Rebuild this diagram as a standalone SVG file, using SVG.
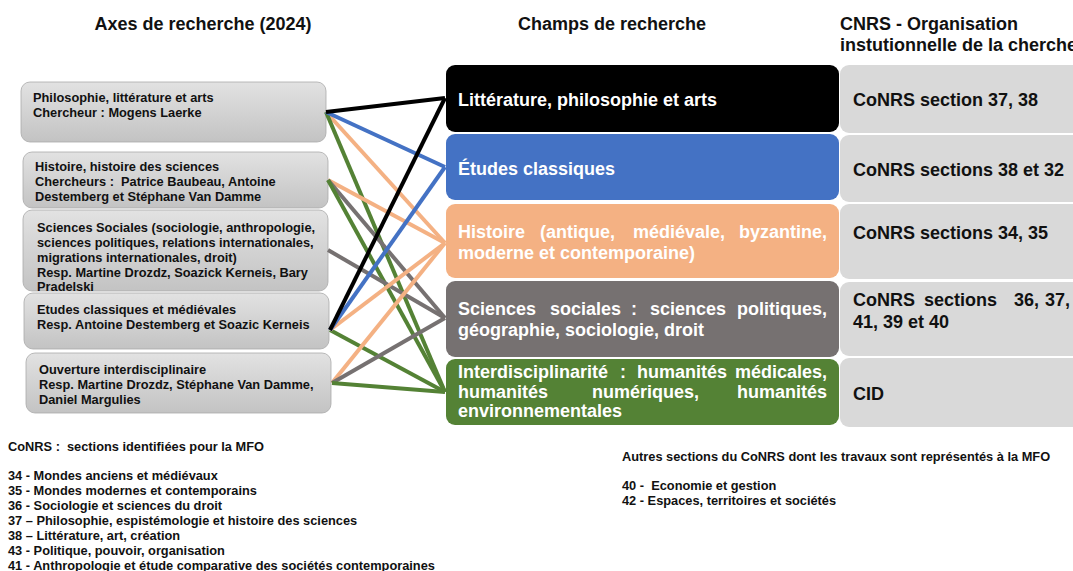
<svg xmlns="http://www.w3.org/2000/svg" width="1073" height="571" viewBox="0 0 1073 571">
<defs>
<linearGradient id="gl" x1="0" y1="0" x2="0" y2="1">
<stop offset="0" stop-color="#e2e2e2"/>
<stop offset="1" stop-color="#c3c3c3"/>
</linearGradient>
<style>
text{font-family:"Liberation Sans",Arial,sans-serif;font-weight:bold;}
.h{font-size:18px;fill:#111;}
.ax rect{fill:url(#gl);stroke:#a9a9a9;stroke-width:0.8;}
.ax text{font-size:12.8px;fill:#111;}
.ch text{font-size:18px;fill:#fff;}
.cn rect{fill:#d9d9d9;}
.cn text{font-size:18px;fill:#111;}
.lg{font-size:12.8px;fill:#111;}
.c line{stroke-width:4;stroke-linecap:butt;}
.k{stroke:#000;}.b{stroke:#4472c4;}.o{stroke:#f4b183;}.g{stroke:#767171;}.v{stroke:#548235;}
</style>
</defs>
<rect width="1073" height="571" fill="#fff"/>

<text class="h" x="203" y="30" text-anchor="middle">Axes de recherche (2024)</text>
<text class="h" x="612" y="30" text-anchor="middle">Champs de recherche</text>
<text class="h" x="840" y="30">CNRS - Organisation</text>
<text class="h" x="840" y="51">instutionnelle de la cherche</text>

<g id="axe1" class="ax"><rect x="21" y="82" width="305" height="60" rx="9"/>
<text x="33" y="102">Philosophie, littérature et arts</text>
<text x="33" y="117">Chercheur : Mogens Laerke</text></g>
<g id="axe2" class="ax"><rect x="23" y="152" width="305" height="56" rx="9"/>
<text x="35" y="171">Histoire, histoire des sciences</text>
<text x="35" y="186" xml:space="preserve">Chercheurs :  Patrice Baubeau, Antoine</text>
<text x="35" y="201">Destemberg et Stéphane Van Damme</text></g>
<g id="axe3" class="ax"><rect x="23" y="210" width="305" height="81" rx="9"/>
<text x="37" y="232">Sciences Sociales (sociologie, anthropologie,</text>
<text x="37" y="247">sciences politiques, relations internationales,</text>
<text x="37" y="262">migrations internationales, droit)</text>
<text x="37" y="277">Resp. Martine Drozdz, Soazick Kerneis, Bary</text>
<text x="37" y="291">Pradelski</text></g>
<g id="axe4" class="ax"><rect x="24" y="293" width="305" height="56" rx="9"/>
<text x="37" y="314">Etudes classiques et médiévales</text>
<text x="37" y="329">Resp. Antoine Destemberg et Soazic Kerneis</text></g>
<g id="axe5" class="ax"><rect x="26" y="353" width="305" height="60" rx="9"/>
<text x="39" y="374">Ouverture interdisciplinaire</text>
<text x="39" y="389">Resp. Martine Drozdz, Stéphane Van Damme,</text>
<text x="39" y="404">Daniel Margulies</text></g>

<g id="cnrs1" class="cn"><rect x="840" y="65" width="250" height="68" rx="9"/><text x="853" y="106">CoNRS section 37, 38</text></g>
<g id="cnrs2" class="cn"><rect x="840" y="135" width="250" height="67" rx="9"/><text x="853" y="176">CoNRS sections 38 et 32</text></g>
<g id="cnrs3" class="cn"><rect x="840" y="204" width="250" height="75" rx="9"/><text x="853" y="239">CoNRS sections 34, 35</text></g>
<g id="cnrs4" class="cn"><rect x="840" y="282" width="250" height="74" rx="9"/>
<text y="306"><tspan x="853">CoNRS</tspan><tspan x="924">sections</tspan><tspan x="1014">36,</tspan><tspan x="1045">37,</tspan></text>
<text x="853" y="328">41, 39 et 40</text></g>
<g id="cnrs5" class="cn"><rect x="840" y="358" width="250" height="69" rx="9"/><text x="853" y="400">CID</text></g>

<g id="champ1" class="ch"><rect x="446" y="65" width="393" height="67" rx="9" fill="#000"/>
<text x="458" y="106">Littérature, philosophie et arts</text></g>
<g id="champ2" class="ch"><rect x="446" y="134" width="393" height="66" rx="9" fill="#4472c4"/>
<text x="458" y="175">Études classiques</text></g>
<g id="champ3" class="ch"><rect x="446" y="204" width="393" height="74" rx="9" fill="#f4b183"/>
<text y="238"><tspan x="458">Histoire</tspan><tspan x="540">(antique,</tspan><tspan x="633">médiévale,</tspan></text>
<text x="827" y="238" text-anchor="end">byzantine,</text>
<text x="458" y="259">moderne et contemporaine)</text></g>
<g id="champ4" class="ch"><rect x="446" y="281" width="393" height="76" rx="9" fill="#767171"/>
<text y="315"><tspan x="458">Sciences</tspan><tspan x="550">sociales</tspan><tspan x="631">:</tspan><tspan x="650">sciences</tspan></text>
<text x="827" y="315" text-anchor="end">politiques,</text>
<text x="458" y="336">géographie, sociologie, droit</text></g>
<g id="champ5" class="ch"><rect x="446" y="359" width="393" height="66" rx="9" fill="#548235"/>
<text y="378"><tspan x="458">Interdisciplinarité</tspan><tspan x="620">:</tspan><tspan x="637">humanités</tspan></text>
<text x="827" y="378" text-anchor="end">médicales,</text>
<text y="398"><tspan x="458">humanités</tspan><tspan x="592">numériques,</tspan></text>
<text x="827" y="398" text-anchor="end">humanités</text>
<text x="458" y="417">environnementales</text></g>

<g id="connectors" class="c">
<line class="o" x1="326" y1="112" x2="445" y2="243"/>
<line class="v" x1="326" y1="112" x2="445" y2="392"/>
<line class="b" x1="326" y1="112" x2="445" y2="167"/>
<line class="k" x1="326" y1="112" x2="445" y2="98"/>
<line class="o" x1="328" y1="180" x2="445" y2="243"/>
<line class="g" x1="328" y1="180" x2="445" y2="318"/>
<line class="v" x1="328" y1="180" x2="445" y2="392"/>
<line class="g" x1="328" y1="250" x2="445" y2="318"/>
<line class="v" x1="330" y1="330" x2="445" y2="392"/>
<line class="o" x1="330" y1="330" x2="445" y2="243"/>
<line class="b" x1="330" y1="330" x2="445" y2="167"/>
<line class="k" x1="330" y1="330" x2="445" y2="98"/>
<line class="o" x1="332" y1="383" x2="445" y2="243"/>
<line class="g" x1="332" y1="383" x2="445" y2="318"/>
<line class="v" x1="332" y1="383" x2="445" y2="392"/>
</g>

<g id="legend-left">
<text class="lg" x="8" y="451" xml:space="preserve">CoNRS :  sections identifiées pour la MFO</text>
<text class="lg" x="8" y="480">34 - Mondes anciens et médiévaux</text>
<text class="lg" x="8" y="495">35 - Mondes modernes et contemporains</text>
<text class="lg" x="8" y="510">36 - Sociologie et sciences du droit</text>
<text class="lg" x="8" y="525">37 – Philosophie, espistémologie et histoire des sciences</text>
<text class="lg" x="8" y="540">38 – Littérature, art, création</text>
<text class="lg" x="8" y="555">43 - Politique, pouvoir, organisation</text>
<text class="lg" x="8" y="570">41 - Anthropologie et étude comparative des sociétés contemporaines</text>
</g>
<g id="legend-right">
<text class="lg" x="622" y="461">Autres sections du CoNRS dont les travaux sont représentés à la MFO</text>
<text class="lg" x="622" y="490" xml:space="preserve">40 -  Economie et gestion</text>
<text class="lg" x="622" y="505">42 - Espaces, territoires et sociétés</text>
</g>
</svg>
